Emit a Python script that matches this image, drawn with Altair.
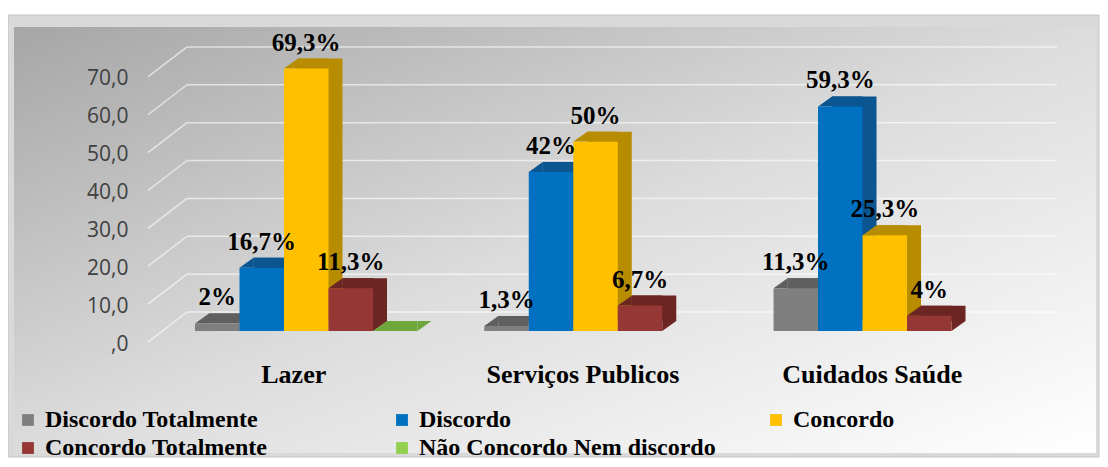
import json
import altair as alt
import pandas as pd

# ---------------- data ----------------
categories = ["Lazer", "Serviços Publicos", "Cuidados Saúde"]
series = ["Discordo Totalmente", "Discordo", "Concordo",
          "Concordo Totalmente", "Não Concordo Nem discordo"]
discordo_totalmente = [2.0, 1.3, 11.3]
discordo = [16.7, 42.0, 59.3]
concordo = [69.3, 50.0, 25.3]
concordo_totalmente = [11.3, 6.7, 4.0]
nao_concordo_nem_discordo = [0.0, None, None]
y_ticks = [0, 10, 20, 30, 40, 50, 60, 70]

# ---------------- styles ----------------
front_colors = ["#7f7f7f", "#0070c0", "#ffc000", "#953735", "#92d050"]
dark_colors = ["#5f5f5f", "#0b5591", "#b88c00", "#6b2523", "#6ea83c"]
# legend is filled column by column: order so that rows read like the reference
legend_order = [0, 3, 1, 4, 2]

values_by_series = [discordo_totalmente, discordo, concordo,
                    concordo_totalmente, nao_concordo_nem_discordo]
rows = []
for si, (name, vals) in enumerate(zip(series, values_by_series)):
    for ci, (cat, v) in enumerate(zip(categories, vals)):
        if v is None:
            continue
        rows.append({
            "cat": cat, "ci": ci, "series": name, "si": si, "value": v,
            "label": (f"{v:g}".replace(".", ",") + "%") if v > 0 else "",
            "dark": dark_colors[si],
        })
df = pd.DataFrame(rows)
ticks_df = pd.DataFrame({"t": y_ticks})
one = pd.DataFrame({"k": [0]})

GROUP = 6.5          # slots per category (5 bars + gap)
n_series = len(series)
x_scale = alt.Scale(domain=[-1.056, 19.37], nice=False, zero=False)
y_scale = alt.Scale(domain=[0, 80], nice=False)

DX, DY = 14, -10     # 3D depth of bars
WALL = -19           # back-wall offset of gridlines
FRONT = 11           # front edge offset

y_axis = alt.Axis(
    values=y_ticks,
    labelExpr="datum.value == 0 ? ',0' : datum.value + ',0'",
    labelFont="Open Sans", labelFontSize=21, labelColor="#404040",
    labelPadding=20, labelOffset=FRONT + 2, ticks=False, tickSize=0,
    domain=False, grid=False, title=None, zindex=2)

x_axis = alt.Axis(
    values=[GROUP * i + (n_series - 1) / 2 + 0.5 for i in range(len(categories))],
    labelExpr=f"{json.dumps(categories, ensure_ascii=False)}[round((datum.value - 2.5) / {GROUP})]",
    labelFont="Liberation Serif", labelFontWeight="bold", labelFontSize=26,
    labelColor="black", labelBaseline="alphabetic", labelPadding=51,
    labelOffset=-13, ticks=False, tickSize=0, domain=False, grid=False,
    labelFlush=False, labelOverlap=False, labelLimit=500, title=None, zindex=2)

base = alt.Chart(df).transform_calculate(
    x0=f"datum.ci * {GROUP} + datum.si",
    x1=f"datum.ci * {GROUP} + datum.si + 1",
    xc=f"datum.ci * {GROUP} + datum.si + 0.5",
)

# background frame
frame = alt.Chart(one).mark_rect(fill="#d9d9d9", stroke="#c4c4c4", strokeWidth=1).encode(
    x=alt.value(-140), x2=alt.value(951), y=alt.value(-13), y2=alt.value(429))
inner = alt.Chart(one).mark_rect(
    fill=alt.Gradient(
        gradient="linear", x1=0, y1=0, x2=1, y2=1,
        stops=[alt.GradientStop(offset=0, color="#a6a6a6"),
               alt.GradientStop(offset=0.5, color="#dcdcdc"),
               alt.GradientStop(offset=1, color="#ffffff")])
).encode(x=alt.value(-134), x2=alt.value(948), y=alt.value(-1), y2=alt.value(425))

grid = alt.Chart(ticks_df).mark_rule(
    color="white", strokeOpacity=0.6, strokeWidth=1.5, yOffset=WALL
).encode(
    y=alt.Y("t:Q", scale=y_scale, axis=y_axis),
    x=alt.value(39), x2=alt.value(909))

diag = alt.Chart(ticks_df).mark_rule(
    color="white", strokeOpacity=0.6, strokeWidth=1.5, yOffset=FRONT, y2Offset=WALL
).encode(
    y=alt.Y("t:Q", scale=y_scale, axis=y_axis), y2="t:Q",
    x=alt.value(0), x2=alt.value(39))

side = base.mark_bar(xOffset=DX, x2Offset=DX, yOffset=DY, y2Offset=DY).encode(
    x=alt.X("x0:Q", scale=x_scale, axis=x_axis), x2="x1:Q",
    y=alt.Y("value:Q", scale=y_scale, axis=y_axis), y2=alt.datum(0),
    fill=alt.Fill("dark:N", scale=None))

top = base.mark_bar(xOffset=DX, x2Offset=0, yOffset=DY, y2Offset=0).encode(
    x=alt.X("x0:Q", scale=x_scale, axis=x_axis), x2="x1:Q",
    y=alt.Y("value:Q", scale=y_scale, axis=y_axis), y2="value:Q",
    fill=alt.Fill("dark:N", scale=None))

tl = base.mark_point(
    shape="M -1 0.714 L 1 -0.714 L 1 0.714 Z", size=DX * DX, filled=True,
    opacity=1, strokeWidth=0, xOffset=DX / 2, yOffset=DY / 2
).encode(
    x=alt.X("x0:Q", scale=x_scale, axis=x_axis),
    y=alt.Y("value:Q", scale=y_scale, axis=y_axis),
    fill=alt.Fill("dark:N", scale=None))

br = base.mark_point(
    shape="M -1 -0.714 L -1 0.714 L 1 -0.714 Z", size=DX * DX, filled=True,
    opacity=1, strokeWidth=0, xOffset=DX / 2, yOffset=DY / 2
).encode(
    x=alt.X("x1:Q", scale=x_scale, axis=x_axis),
    y=alt.Y(datum=0, scale=y_scale, axis=y_axis),
    fill=alt.Fill("dark:N", scale=None))

front = base.mark_bar().encode(
    x=alt.X("x0:Q", scale=x_scale, axis=x_axis),
    x2="x1:Q",
    y=alt.Y("value:Q", scale=y_scale, axis=y_axis), y2=alt.datum(0),
    color=alt.Color("series:N",
                    scale=alt.Scale(domain=[series[i] for i in legend_order],
                                    range=[front_colors[i] for i in legend_order]),
                    legend=alt.Legend(
                        orient="none", legendX=-132, legendY=380, columns=3,
                        title=None, labelFont="Liberation Serif",
                        labelFontWeight="bold", labelFontSize=24,
                        labelColor="black", labelLimit=600,
                        symbolType="square", symbolSize=140,
                        symbolStrokeWidth=0, labelOffset=5,
                        columnPadding=48, rowPadding=4, gridAlign="all",
                        padding=0, zindex=2)))

labels = base.transform_filter("datum.value > 0").mark_text(
    font="Liberation Serif", fontWeight="bold", fontSize=25, color="black",
    baseline="alphabetic", dy=-18
).encode(
    x=alt.X("xc:Q", scale=x_scale, axis=x_axis),
    y=alt.Y("value:Q", scale=y_scale, axis=y_axis),
    text="label:N")

chart = alt.layer(frame, inner, grid, diag, side, top, tl, br, front, labels).properties(
    width=909, height=303, autosize="none",
    padding={"left": 140, "top": 20, "right": 43, "bottom": 128},
).configure_view(stroke=None)

chart.save("out.html", embed_options={"renderer": "svg", "actions": False})
